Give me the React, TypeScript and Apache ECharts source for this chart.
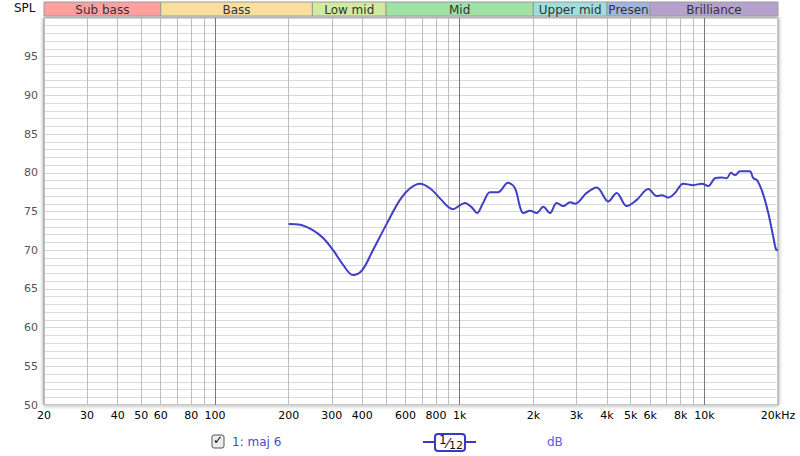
import React, { useEffect, useRef } from "react";
import * as echarts from "echarts";

const freqs = [200, 223, 251, 276, 304, 334, 366, 399, 442, 505, 570, 627, 689, 756, 831, 896, 939, 1002, 1051, 1123, 1177, 1246, 1330, 1434, 1576, 1683, 1764, 1820, 1938, 2064, 2196, 2340, 2492, 2652, 2824, 2960, 3304, 3632, 4050, 4382, 4816, 5292, 5902, 6386, 6694, 7122, 7586, 8204, 9014, 9752, 10378, 11054, 11774, 12340, 12852, 13344, 13986, 14894, 15364, 15850, 16460, 17316, 18252, 19136, 19626, 20000];
const spl = [73.4, 73.3, 72.6, 71.6, 70.0, 68.1, 66.8, 67.4, 70.0, 73.5, 76.5, 78.0, 78.6, 78.0, 76.7, 75.6, 75.3, 75.8, 76.1, 75.5, 74.8, 76.1, 77.5, 77.5, 78.7, 78.0, 75.6, 74.8, 75.1, 74.8, 75.6, 74.8, 76.1, 75.7, 76.2, 76.0, 77.4, 78.1, 76.3, 77.4, 75.7, 76.5, 77.9, 77.0, 77.1, 76.8, 77.4, 78.6, 78.4, 78.6, 78.3, 79.3, 79.4, 79.3, 80.0, 79.7, 80.2, 80.2, 80.2, 79.3, 79.0, 77.4, 74.8, 71.7, 70.1, 70.0];

const gridFreqs = [20, 30, 40, 50, 60, 70, 80, 90, 100, 200, 300, 400, 500, 600, 700, 800, 900, 1000, 2000, 3000, 4000, 5000, 6000, 7000, 8000, 9000, 10000, 20000];
const labelFreqs = [20, 30, 40, 50, 60, 80, 100, 200, 300, 400, 600, 800, 1000, 2000, 3000, 4000, 5000, 6000, 8000, 10000, 20000];
const decadeFreqs = [100, 1000, 10000];

const bandNames = ["Sub bass", "Bass", "Low mid", "Mid", "Upper mid", "Presen", "Brilliance"];
const bandEdges = [20, 60, 250, 500, 2000, 4000, 6000, 20000];
const bandColors = ["#ffa0a0", "#f8e09c", "#d2eba0", "#a0e1a6", "#a0dedb", "#a2b5e2", "#b4a2cc"];

const FONT = "DejaVu Sans";
const lg = (f: number) => Math.log10(f);
const X_MIN = lg(20);
const X_MAX = lg(20000);

function fmtFreq(v: number): string {
  const f = Math.round(Math.pow(10, v));
  if (f >= 20000) return "20kHz";
  if (f >= 1000) return f / 1000 + "k";
  return String(f);
}

export default function App() {
  const ref = useRef<HTMLDivElement>(null);
  useEffect(() => {
    if (!ref.current) return;
    const chart = echarts.init(ref.current, null, { renderer: "svg" });
    const lineData = freqs.map((f, i) => [lg(f), spl[i]]);
    const bandData = bandNames.map((n, i) => [lg(bandEdges[i]), lg(bandEdges[i + 1]), i]);
    const option: any = {
      animation: false,
      backgroundColor: "#ffffff",
      textStyle: { fontFamily: FONT },
      grid: [
        {
          left: 44, right: 22, top: 18, bottom: 51,
          show: true, backgroundColor: "#ffffff", borderColor: "#8c8c8c", borderWidth: 1,
          shadowColor: "rgba(0,0,0,0.4)", shadowBlur: 4,
        },
        { left: 44, right: 22, top: 2, height: 14 },
      ],
      xAxis: [
        {
          type: "value", gridIndex: 0, min: X_MIN, max: X_MAX,
          axisLine: { show: false },
          axisTick: { show: false, customValues: gridFreqs.map(lg) },
          axisLabel: {
            customValues: labelFreqs.map(lg), formatter: fmtFreq,
            color: "#000", fontSize: 11, fontFamily: FONT, margin: 5,
          },
          splitLine: { show: true, lineStyle: { color: "#bdbdbd", width: 1 } },
        },
        {
          type: "value", gridIndex: 0, min: X_MIN, max: X_MAX, position: "top",
          axisLine: { show: false },
          axisTick: { show: false, customValues: decadeFreqs.map(lg) },
          axisLabel: { show: false },
          splitLine: { show: true, lineStyle: { color: "#7a7a7a", width: 1 } },
        },
        {
          type: "value", gridIndex: 1, min: X_MIN, max: X_MAX, show: false,
        },
      ],
      yAxis: [
        {
          type: "value", gridIndex: 0, min: 50, max: 100, interval: 5,
          axisLine: { show: false }, axisTick: { show: false },
          axisLabel: {
            formatter: (v: number) => (v >= 100 ? "" : String(v)),
            color: "#555", fontSize: 11, fontFamily: FONT, margin: 6,
          },
          splitLine: { show: true, lineStyle: { color: "#d6d6d6", width: 1 } },
          minorTick: { show: false, splitNumber: 5 },
          minorSplitLine: { show: true, lineStyle: { color: "#dadada", width: 1 } },
        },
        { type: "value", gridIndex: 1, min: 0, max: 1, show: false },
      ],
      series: [
        {
          type: "line", xAxisIndex: 0, yAxisIndex: 0, data: lineData,
          smooth: 0.35, showSymbol: false, symbol: "none",
          lineStyle: { color: "#3f3fc6", width: 2 },
          z: 5,
        },
        {
          type: "custom", xAxisIndex: 2, yAxisIndex: 1, data: bandData,
          renderItem: (params: any, api: any) => {
            const s = api.coord([api.value(0), 1]);
            const e = api.coord([api.value(1), 0]);
            const i = api.value(2);
            return {
              type: "group",
              children: [
                {
                  type: "rect",
                  shape: { x: s[0], y: s[1], width: e[0] - s[0], height: e[1] - s[1] },
                  style: { fill: bandColors[i], stroke: "#9a9a9a", lineWidth: 1 },
                },
                {
                  type: "text",
                  style: {
                    text: bandNames[i], x: (s[0] + e[0]) / 2, y: (s[1] + e[1]) / 2 + 1,
                    align: "center", verticalAlign: "middle", fill: "#333", font: `12px "${FONT}"`,
                  },
                },
              ],
            };
          },
        },
      ],
      graphic: [
        { type: "text", left: 14, top: 2, style: { text: "SPL", fill: "#111", font: `12px "${FONT}"` } },
        {
          type: "rect", shape: { x: 212, y: 435, width: 12, height: 13, r: 2 },
          style: { fill: "#ededed", stroke: "#555", lineWidth: 1 },
        },
        {
          type: "text", x: 213, y: 434,
          style: { text: "✓", fill: "#000", font: `bold 12px "${FONT}"` },
        },
        { type: "text", x: 232, y: 436, style: { text: "1: maj 6", fill: "#4848d0", font: `12px "${FONT}"` } },
        { type: "line", shape: { x1: 423, y1: 442, x2: 476, y2: 442 }, style: { stroke: "#3a3ac0", lineWidth: 2 } },
        {
          type: "rect", shape: { x: 435, y: 434, width: 30, height: 17, r: 3 },
          style: { fill: "#ffffff", stroke: "#3a3ac0", lineWidth: 2 },
        },
        {
          type: "text", x: 439, y: 434,
          style: {
            text: "{a|1}{b|⁄}{c|12}",
            rich: {
              a: { fill: "#111", font: `12px "${FONT}"`, verticalAlign: "top" },
              b: { fill: "#111", font: `14px "${FONT}"` },
              c: { fill: "#111", font: `11px "${FONT}"`, padding: [6, 0, 0, 0] },
            },
          },
        },
        { type: "text", x: 547, y: 436, style: { text: "dB", fill: "#5a5ae0", font: `12px "${FONT}"` } },
      ],
    };
    chart.setOption(option);
    return () => chart.dispose();
  }, []);
  return (
    <div
      ref={ref}
      style={{ position: "fixed", left: 0, top: 0, width: 800, height: 456, background: "#fff" }}
    />
  );
}
